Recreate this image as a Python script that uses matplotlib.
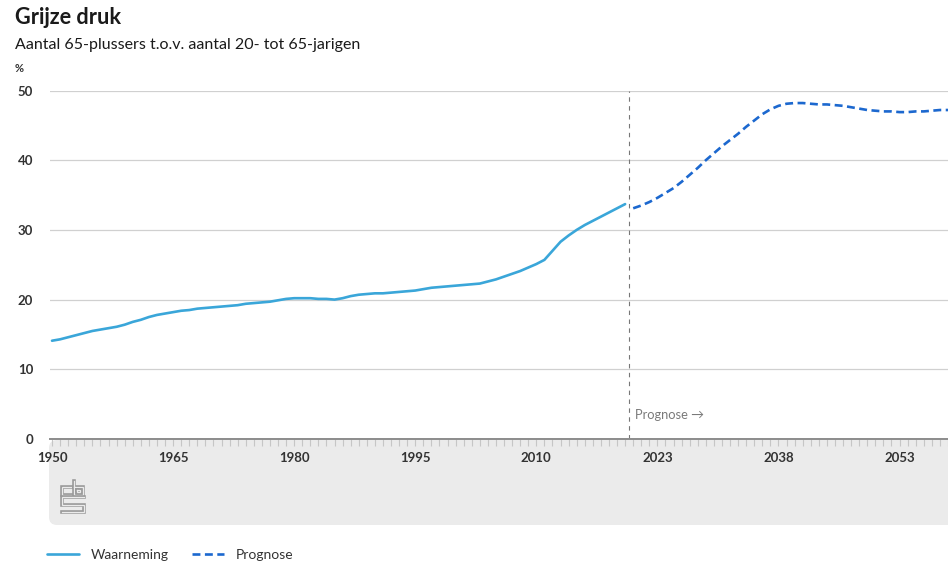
import matplotlib.pyplot as plt
import matplotlib.patheffects as pe
from matplotlib.patches import FancyBboxPatch
from matplotlib.lines import Line2D

plt.rcParams['font.family'] = ['Lato', 'DejaVu Sans']

# waarneming (observed) 1950-2021
obs_years = list(range(1950, 2022))
obs_values = [14.1, 14.3, 14.6, 14.9, 15.2, 15.5, 15.7, 15.9, 16.1, 16.4,
              16.8, 17.1, 17.5, 17.8, 18.0, 18.2, 18.4, 18.5, 18.7, 18.8,
              18.9, 19.0, 19.1, 19.2, 19.4, 19.5, 19.6, 19.7, 19.9, 20.1,
              20.2, 20.2, 20.2, 20.1, 20.1, 20.0, 20.2, 20.5, 20.7, 20.8,
              20.9, 20.9, 21.0, 21.1, 21.2, 21.3, 21.5, 21.7, 21.8, 21.9,
              22.0, 22.1, 22.2, 22.3, 22.6, 22.9, 23.3, 23.7, 24.1, 24.6,
              25.1, 25.7, 27.0, 28.3, 29.2, 30.0, 30.7, 31.3, 31.9, 32.5,
              33.1, 33.7]

# prognose
prog_years = list(range(2020, 2060))
prog_values = [33.1, 33.5, 34.0, 34.6, 35.3, 36.0, 36.9, 37.9, 38.9, 40.0,
               41.0, 42.0, 42.9, 43.8, 44.8, 45.7, 46.6, 47.3, 47.8, 48.1,
               48.2, 48.2, 48.1, 48.0, 48.0, 47.9, 47.8, 47.6, 47.4, 47.2,
               47.1, 47.0, 47.0, 46.9, 46.9, 47.0, 47.0, 47.1, 47.2, 47.2]

y_ticks = [0, 10, 20, 30, 40, 50]

OBS_COLOR = '#3aa6d9'
PROG_COLOR = '#1c68cf'
TEXT = '#333333'

categories = [str(y) for y in obs_years] + [str(y) for y in prog_years]
x_obs = list(range(len(obs_years)))
x_prog = list(range(len(obs_years), len(categories)))

fig = plt.figure(figsize=(9.48, 5.63), dpi=100)

# grey band behind the x axis labels
band = FancyBboxPatch((0.49, 0.38), 9.3, 0.85, boxstyle='round,pad=0,rounding_size=0.08',
                      transform=fig.dpi_scale_trans, facecolor='#ebebeb', edgecolor='none', zorder=0)
fig.patches.append(band)

ax = fig.add_axes([50 / 948, 124 / 563, 1 - 50 / 948, (439 - 90.5) / 563])
ax.set_zorder(2)
ax.set_facecolor('none')

line_obs, = ax.plot(x_obs, obs_values, color=OBS_COLOR, lw=1.9, solid_capstyle='round',
                    label='Waarneming', zorder=3)
line_prog, = ax.plot(x_prog, prog_values, color=PROG_COLOR, lw=1.9, dashes=(3, 1.7),
                     label='Prognose', zorder=3)

split = len(obs_years) - 0.5
ax.axvline(split, color='#777777', lw=0.8, dashes=(4, 4), zorder=2)
ax.text(split + 0.7, 3.4, 'Prognose \u2192', color='#7a7a7a', fontsize=9.3, va='center', ha='left')

ax.set_xlim(-0.25, 111)
ax.set_ylim(0, 50)
ax.set_yticks(y_ticks)
ax.set_yticklabels([str(v) for v in y_ticks])
ax.grid(axis='y', color='#d0d0d0', lw=0.9, zorder=1)
ax.set_axisbelow(True)

all_x = list(range(len(categories)))
ax.set_xticks(all_x)
ax.set_xticklabels([c if i % 15 == 0 else '' for i, c in enumerate(categories)])
ax.tick_params(axis='x', length=5, width=0.8, color='#c6c6c6', pad=4,
               labelsize=9.5, labelcolor=TEXT)
ax.tick_params(axis='y', length=0, pad=12, labelsize=9.5, labelcolor=TEXT)
for lbl in ax.get_xticklabels() + ax.get_yticklabels():
    lbl.set_fontweight('bold')

for s in ['top', 'right', 'left']:
    ax.spines[s].set_visible(False)
ax.spines['bottom'].set_color('#8c8c8c')
ax.spines['bottom'].set_linewidth(1.4)

# titles
fig.text(15 / 948, 1 - 18 / 563, 'Grijze druk', fontsize=15.6, fontweight='bold', color='#1a1a1a', va='center')
fig.text(15 / 948, 1 - 45 / 563, 'Aantal 65-plussers t.o.v. aantal 20- tot 65-jarigen',
         fontsize=11.5, color='#1a1a1a', va='center')
fig.text(15 / 948, 1 - 68 / 563, '%', fontsize=8, fontweight='bold', color=TEXT, va='center')

# cbs logo, rough outline
logo_fx = [pe.Stroke(linewidth=2.6, foreground='#9a9a9a'), pe.Normal()]
def logo_line(xs, ys):
    fig.add_artist(Line2D([x / 948 for x in xs], [1 - y / 563 for y in ys], transform=fig.transFigure,
                          color='#ebebeb', lw=0.9, path_effects=logo_fx, solid_joinstyle='miter'))
logo_line([72.5, 61.5, 61.5, 72.5], [487, 487, 494.5, 494.5])
logo_line([74, 74, 83, 83, 74], [480.5, 494.5, 494.5, 487, 487])
logo_line([77, 80, 80, 77, 77], [489.5, 489.5, 492, 492, 489.5])
logo_line([83.5, 61.5, 61.5, 83.5, 83.5, 61.5], [497, 497, 504.5, 504.5, 512, 512])

fig.legend(handles=[line_obs, line_prog], loc='center left', bbox_to_anchor=(47 / 948, 1 - 555 / 563),
           ncol=2, frameon=False, fontsize=10, handlelength=2.3, handletextpad=0.85,
           columnspacing=1.7, borderpad=0, borderaxespad=0, labelcolor=TEXT)

fig.savefig('out.png', dpi=100)
